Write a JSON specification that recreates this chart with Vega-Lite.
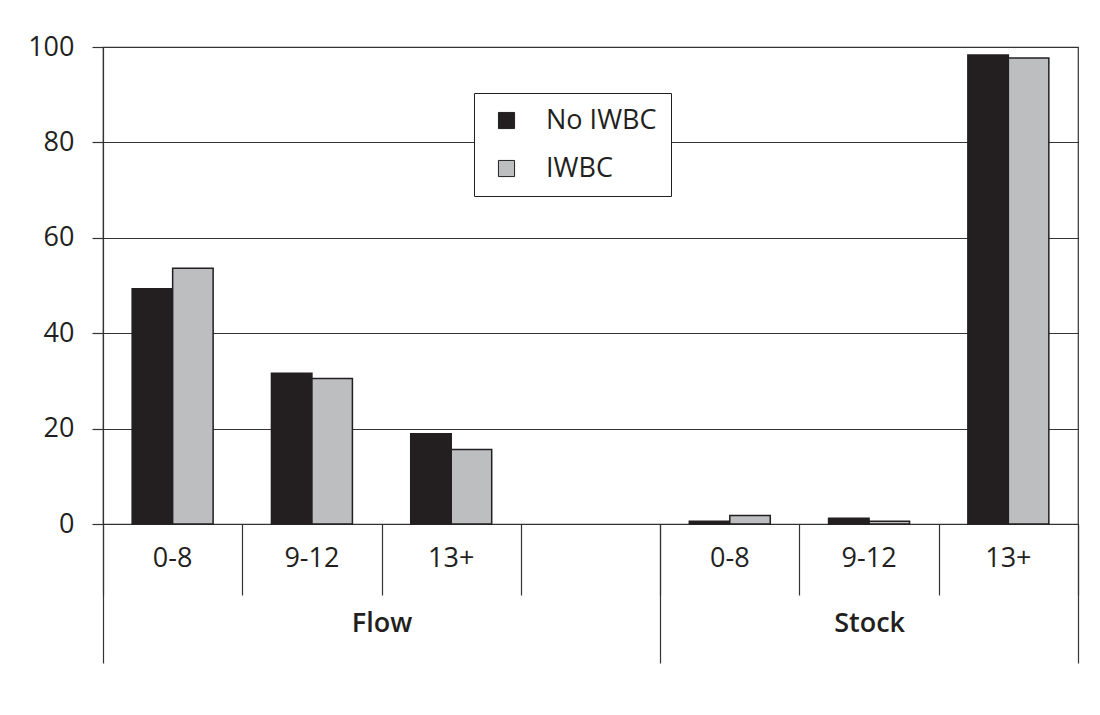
{
  "$schema": "https://vega.github.io/schema/vega-lite/v6.json",
  "width": 975,
  "height": 477,
  "autosize": {"type": "none"},
  "padding": {"left": 103, "top": 47, "right": 22, "bottom": 191},
  "background": "white",
  "config": {
    "font": "Open Sans",
    "view": {"stroke": "#333333", "strokeWidth": 1.2},
    "axis": {"labelFont": "Open Sans", "labelColor": "#231f20", "domainColor": "#333333", "tickColor": "#333333", "gridColor": "#333333"}
  },
  "datasets": {
    "bars": [
      {"group": "Flow", "cat": "F0-8", "series": "No IWBC", "value": 49.3},
      {"group": "Flow", "cat": "F0-8", "series": "IWBC", "value": 53.6},
      {"group": "Flow", "cat": "F9-12", "series": "No IWBC", "value": 31.6},
      {"group": "Flow", "cat": "F9-12", "series": "IWBC", "value": 30.5},
      {"group": "Flow", "cat": "F13+", "series": "No IWBC", "value": 18.9},
      {"group": "Flow", "cat": "F13+", "series": "IWBC", "value": 15.6},
      {"group": "Stock", "cat": "S0-8", "series": "No IWBC", "value": 0.6},
      {"group": "Stock", "cat": "S0-8", "series": "IWBC", "value": 1.8},
      {"group": "Stock", "cat": "S9-12", "series": "No IWBC", "value": 1.2},
      {"group": "Stock", "cat": "S9-12", "series": "IWBC", "value": 0.6},
      {"group": "Stock", "cat": "S13+", "series": "No IWBC", "value": 98.3},
      {"group": "Stock", "cat": "S13+", "series": "IWBC", "value": 97.7}
    ],
    "groups": [
      {"group": "Flow", "slots": 4},
      {"group": "Stock", "slots": 3}
    ]
  },
  "layer": [
    {
      "data": {"name": "bars"},
      "mark": {"type": "bar", "stroke": "#231f20", "strokeWidth": 1.5},
      "encoding": {
        "x": {
          "field": "cat", "type": "nominal", "title": null,
          "scale": {"domain": ["F0-8", "F9-12", "F13+", "Fblank", "S0-8", "S9-12", "S13+"], "paddingInner": 0, "paddingOuter": 0},
          "axis": {
            "orient": "bottom",
            "labelAngle": 0,
            "labelExpr": "datum.value == 'Fblank' ? '' : slice(datum.value, 1)",
            "labelFontSize": 27,
            "labelPadding": 21,
            "ticks": false,
            "domainWidth": 1.2,
            "grid": false
          }
        },
        "xOffset": {"field": "series", "type": "nominal", "scale": {"domain": ["No IWBC", "IWBC"], "paddingInner": 0, "paddingOuter": 0.72}},
        "y": {
          "field": "value", "type": "quantitative", "title": null,
          "scale": {"domain": [0, 100], "nice": false},
          "axis": {
            "tickCount": 5,
            "labelFontSize": 27,
            "labelPadding": 18,
            "tickSize": 11,
            "tickWidth": 1.2,
            "grid": true,
            "gridWidth": 1.2,
            "gridOpacity": 1,
            "domainWidth": 1.2
          }
        },
        "color": {
          "field": "series", "type": "nominal",
          "scale": {"domain": ["No IWBC", "IWBC"], "range": ["#231f20", "#bcbec0"]},
          "legend": {
            "title": null,
            "orient": "none",
            "legendX": 371,
            "legendY": 46,
            "fillColor": "white",
            "strokeColor": "#231f20",
            "padding": 14,
            "symbolType": "square",
            "symbolSize": 260,
            "symbolStrokeColor": "#231f20",
            "symbolStrokeWidth": 1,
            "symbolOffset": 5,
            "labelFontSize": 27,
            "labelColor": "#231f20",
            "labelOffset": 26,
            "rowPadding": 20,
            "labelLimit": 300
          }
        }
      }
    },
    {
      "data": {"name": "groups"},
      "mark": {"type": "bar", "opacity": 0},
      "encoding": {
        "x": {
          "field": "slots", "type": "quantitative", "title": null,
          "scale": {"domain": [0, 7], "nice": false},
          "axis": {
            "orient": "bottom",
            "values": [0, 1, 2, 3, 4, 5, 6, 7],
            "labels": false,
            "domain": false,
            "grid": false,
            "tickSize": 71,
            "tickWidth": 1.2
          }
        }
      }
    },
    {
      "data": {"name": "groups"},
      "mark": {"type": "bar", "opacity": 0},
      "encoding": {
        "x": {
          "field": "slots", "type": "quantitative", "title": null,
          "scale": {"domain": [0, 7], "nice": false},
          "axis": {
            "orient": "bottom",
            "values": [0, 4, 7],
            "labels": false,
            "domain": false,
            "grid": false,
            "tickSize": 139,
            "tickWidth": 1.2
          }
        }
      }
    },
    {
      "data": {"name": "groups"},
      "mark": {"type": "bar", "opacity": 0},
      "encoding": {
        "x": {
          "field": "slots", "type": "quantitative", "title": null,
          "scale": {"domain": [0, 7], "nice": false},
          "axis": {
            "orient": "bottom",
            "values": [2, 5.5],
            "labelExpr": "datum.value < 3 ? 'Flow' : 'Stock'",
            "labelFontSize": 27,
            "labelFontWeight": 600,
            "labelPadding": 86,
            "labelFlush": false,
            "labelOverlap": false,
            "ticks": false,
            "domain": false,
            "grid": false
          }
        }
      }
    }
  ],
  "resolve": {"scale": {"x": "independent"}, "axis": {"x": "independent"}}
}
